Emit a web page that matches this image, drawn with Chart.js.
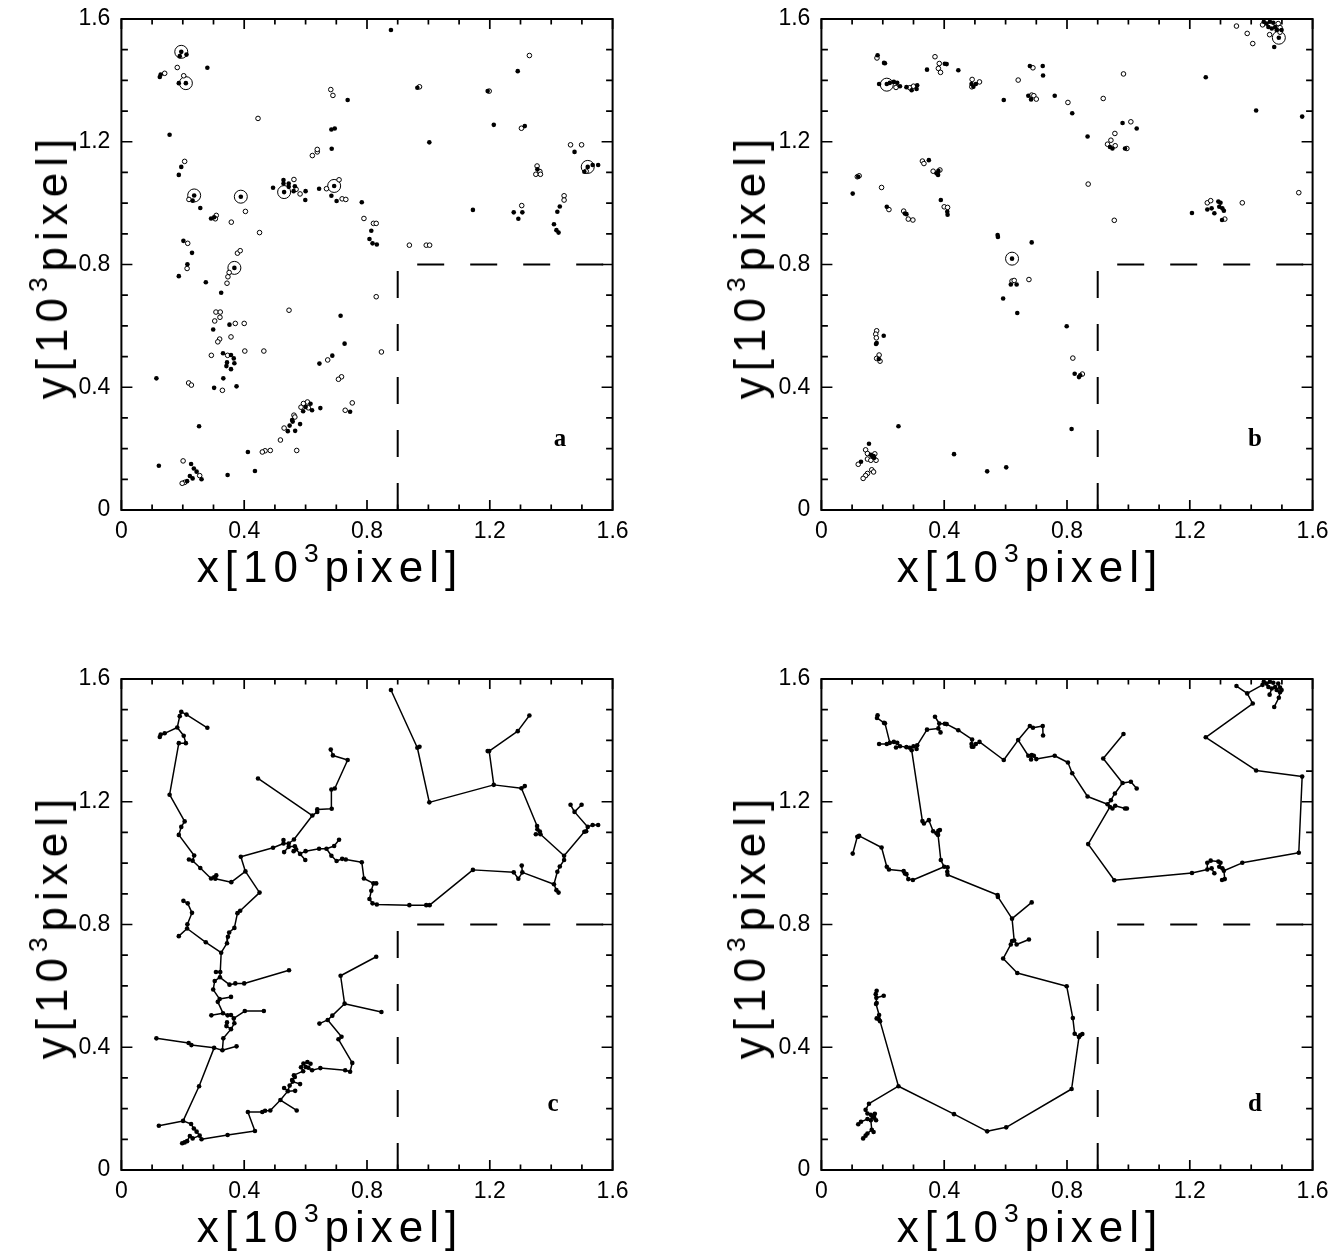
<!DOCTYPE html>
<html>
<head>
<meta charset="utf-8">
<script src="https://cdn.jsdelivr.net/npm/chart.js@4.4.0/dist/chart.umd.min.js"></script>
<style>
  body { margin: 0; background: #fff; width: 1341px; height: 1251px; position: relative; overflow: hidden; }
  canvas { position: absolute; }
  .ttl { position: absolute; transform: translate(-50%, -50%); font: 44px "Liberation Sans", Arial, sans-serif;
         letter-spacing: 6px; white-space: nowrap; line-height: 1; color: #000; }
  .ttl.v { transform: translate(-50%, -50%) rotate(-90deg); }
  .ttl sup { font-size: 0.6em; vertical-align: 0.75em; line-height: 0; }
</style>
</head>
<body>
<canvas id="pa" width="640" height="560" style="left:0px;top:0px"></canvas>
<canvas id="pb" width="640" height="560" style="left:700px;top:0px"></canvas>
<canvas id="pc" width="640" height="560" style="left:0px;top:660px"></canvas>
<canvas id="pd" width="640" height="560" style="left:700px;top:660px"></canvas>

<div class="ttl" style="left:330px;top:567px">x[10<sup>3</sup>pixel]</div>
<div class="ttl" style="left:1030px;top:567px">x[10<sup>3</sup>pixel]</div>
<div class="ttl" style="left:330px;top:1227px">x[10<sup>3</sup>pixel]</div>
<div class="ttl" style="left:1030px;top:1227px">x[10<sup>3</sup>pixel]</div>
<div class="ttl v" style="left:52px;top:266px">y[10<sup>3</sup>pixel]</div>
<div class="ttl v" style="left:750px;top:266px">y[10<sup>3</sup>pixel]</div>
<div class="ttl v" style="left:52px;top:926px">y[10<sup>3</sup>pixel]</div>
<div class="ttl v" style="left:750px;top:926px">y[10<sup>3</sup>pixel]</div>

<script>
// axis ticks
const tickValues = [0, 0.4, 0.8, 1.2, 1.6];
const tickLabels = ['0', '0.4', '0.8', '1.2', '1.6'];
const minorTicks = [0.1, 0.2, 0.3, 0.5, 0.6, 0.7, 0.9, 1.0, 1.1, 1.3, 1.4, 1.5];

// dashed boundary (x, y in 10^3 pixel)
const cutLine = [[0.9, 0], [0.9, 0.8], [1.6, 0.8]];

// panel a: filled and open dots, circled ones
const aFilled = [
  [0.125,1.411],[0.128,1.419],[0.195,1.493],[0.190,1.479],[0.212,1.484],[0.187,1.391],[0.210,1.391],
  [0.280,1.441],[0.157,1.223],[0.195,1.118],[0.187,1.092],[0.237,1.025],[0.232,1.008],[0.257,0.984],
  [0.292,0.950],[0.302,0.954],[0.389,1.021],[0.202,0.877],[0.230,0.838],[0.215,0.801],[0.368,0.789],
  [0.737,1.336],[0.684,1.240],[0.695,1.243],[0.685,1.177],[0.494,1.050],[0.528,1.075],[0.528,1.064],
  [0.530,1.036],[0.545,1.064],[0.545,1.053],[0.565,1.055],[0.561,1.039],[0.600,1.039],[0.599,1.010],
  [0.644,1.047],[0.693,1.056],[0.684,1.024],[0.701,1.007],[0.783,1.003],
  [0.878,1.564],[0.964,1.376],[1.193,1.365],[1.003,1.198],[1.291,1.430],[1.213,1.255],[1.314,1.251],
  [1.476,1.167],[1.519,1.118],[1.535,1.124],[1.553,1.124],[1.508,1.102],[1.355,1.110],[1.278,0.970],
  [1.306,0.970],[1.293,0.949],[1.145,0.978],[1.428,0.989],[1.420,0.972],[1.409,0.931],[1.417,0.912],
  [1.424,0.904],[0.814,0.910],[0.808,0.883],[0.818,0.869],[0.832,0.865],
  [0.187,0.762],[0.275,0.742],[0.325,0.708],[0.714,0.633],[0.352,0.604],[0.299,0.588],[0.727,0.542],
  [0.331,0.511],[0.357,0.505],[0.366,0.494],[0.344,0.481],[0.368,0.478],[0.342,0.469],[0.357,0.459],
  [0.687,0.503],[0.645,0.477],[0.332,0.429],[0.114,0.429],[0.302,0.398],[0.375,0.403],[0.745,0.320],
  [0.648,0.332],[0.616,0.346],[0.600,0.336],[0.592,0.322],[0.621,0.325],[0.556,0.293],[0.558,0.288],
  [0.582,0.280],[0.548,0.275],[0.542,0.257],[0.566,0.258],[0.412,0.189],[0.435,0.127],[0.346,0.114],
  [0.253,0.273],[0.122,0.144],[0.227,0.150],[0.236,0.135],[0.245,0.125],[0.223,0.111],[0.232,0.103],
  [0.261,0.100],[0.214,0.094]
];
const aOpen = [
  [0.141,1.423],[0.182,1.442],[0.203,1.415],[0.206,1.136],[0.220,1.012],[0.309,0.960],[0.306,0.949],
  [0.358,0.938],[0.404,0.973],[0.450,0.904],[0.445,1.276],[0.216,0.869],[0.214,0.787],[0.378,0.837],
  [0.387,0.845],[0.682,1.370],[0.689,1.351],[0.622,1.155],[0.638,1.167],[0.638,1.175],[0.562,1.077],
  [0.569,1.045],[0.582,1.030],[0.668,1.047],[0.709,1.076],[0.719,1.014],[0.731,1.012],[0.790,0.950],
  [0.971,1.379],[1.198,1.365],[1.329,1.481],[1.303,1.244],[1.463,1.190],[1.499,1.190],[1.514,1.104],
  [1.354,1.121],[1.350,1.094],[1.363,1.103],[1.365,1.094],[1.304,0.992],[1.442,1.024],[1.442,1.010],
  [0.821,0.934],[0.830,0.934],[0.938,0.863],[0.993,0.863],[1.004,0.863],
  [0.347,0.760],[0.351,0.774],[0.344,0.739],[0.830,0.695],[0.546,0.651],[0.308,0.645],[0.322,0.645],
  [0.321,0.628],[0.304,0.616],[0.371,0.608],[0.400,0.608],[0.357,0.564],[0.320,0.557],[0.314,0.548],
  [0.402,0.518],[0.464,0.518],[0.293,0.504],[0.346,0.504],[0.672,0.489],[0.219,0.414],[0.228,0.407],
  [0.329,0.390],[0.847,0.515],[0.717,0.434],[0.707,0.426],[0.752,0.349],[0.729,0.325],[0.593,0.347],
  [0.606,0.352],[0.585,0.335],[0.609,0.333],[0.562,0.309],[0.565,0.303],[0.530,0.267],[0.518,0.228],
  [0.571,0.194],[0.485,0.194],[0.468,0.193],[0.459,0.189],[0.201,0.160],[0.255,0.112],[0.206,0.090],
  [0.198,0.087]
];
const aCircled = [[0.195,1.493],[0.210,1.391],[0.237,1.025],[0.389,1.021],[0.368,0.789],[0.530,1.036],[0.693,1.056],[1.519,1.118]];

// panel b
const bFilled = [
  [0.183,1.482],[0.204,1.457],[0.207,1.456],[0.188,1.388],[0.213,1.388],[0.223,1.392],[0.236,1.395],
  [0.247,1.392],[0.256,1.381],[0.277,1.378],[0.294,1.368],[0.312,1.384],[0.310,1.372],[0.344,1.435],
  [0.402,1.454],[0.408,1.453],[0.446,1.433],[0.489,1.388],[0.495,1.379],[0.503,1.388],[0.594,1.336],
  [0.679,1.447],[0.721,1.447],[0.722,1.416],[0.674,1.350],[0.683,1.338],[0.760,1.350],[0.120,1.086],
  [0.102,1.031],[0.213,0.988],[0.272,0.966],[0.277,0.964],[0.350,1.140],[0.375,1.097],[0.381,1.105],
  [0.380,1.092],[0.389,1.010],[0.410,0.972],[0.411,0.962],[0.574,0.896],[0.575,0.890],[0.685,0.872],
  [0.621,0.819],
  [1.475,1.509],[1.490,1.539],[1.441,1.591],[1.450,1.585],[1.461,1.591],[1.472,1.588],[1.456,1.574],
  [1.467,1.569],[1.478,1.574],[1.483,1.564],[1.499,1.564],[1.252,1.410],[0.817,1.293],[0.981,1.261],
  [1.027,1.243],[0.867,1.217],[0.940,1.183],[0.948,1.178],[0.989,1.178],[1.416,1.302],[1.566,1.282],
  [1.207,0.968],[1.257,0.979],[1.271,0.983],[1.280,0.967],[1.293,1.005],[1.300,1.001],[1.296,0.988],
  [1.306,0.983],[1.311,0.975],[1.305,0.945],
  [0.617,0.735],[0.636,0.735],[0.592,0.689],[0.638,0.642],[0.799,0.599],[0.825,0.444],[0.839,0.433],
  [0.843,0.439],[0.815,0.264],[0.251,0.273],[0.432,0.182],[0.540,0.126],[0.602,0.139],[0.203,0.568],
  [0.178,0.541],[0.180,0.544],[0.187,0.492],[0.155,0.216],[0.161,0.180],[0.166,0.174],[0.172,0.170],
  [0.170,0.176],[0.129,0.157]
];
const bOpen = [
  [0.181,1.473],[0.243,1.377],[0.288,1.376],[0.300,1.381],[0.370,1.477],[0.384,1.455],[0.381,1.439],
  [0.388,1.426],[0.491,1.403],[0.515,1.395],[0.490,1.379],[0.641,1.401],[0.689,1.441],[0.685,1.352],
  [0.692,1.350],[0.700,1.339],[0.117,1.086],[0.123,1.089],[0.196,1.051],[0.220,0.979],[0.268,0.974],
  [0.283,0.948],[0.298,0.945],[0.329,1.137],[0.334,1.129],[0.364,1.104],[0.386,1.108],[0.400,0.988],
  [0.411,0.986],
  [1.352,1.577],[1.387,1.553],[1.405,1.520],[1.437,1.581],[1.460,1.549],[1.488,1.585],[1.494,1.572],
  [1.494,1.557],[0.984,1.421],[0.803,1.328],[0.918,1.341],[1.008,1.265],[0.956,1.227],[0.943,1.205],
  [0.932,1.192],[0.957,1.187],[0.995,1.178],[0.869,1.062],[0.954,0.944],[1.257,1.001],[1.268,1.008],
  [1.314,0.948],[1.371,1.001],[1.555,1.034],
  [0.621,0.746],[0.628,0.748],[0.676,0.751],[0.819,0.495],[0.850,0.443],[0.180,0.584],[0.177,0.573],
  [0.179,0.561],[0.188,0.505],[0.180,0.494],[0.191,0.485],[0.144,0.196],[0.150,0.184],[0.174,0.183],
  [0.150,0.166],[0.161,0.162],[0.178,0.162],[0.120,0.149],[0.164,0.131],[0.170,0.124],[0.150,0.119],
  [0.144,0.112],[0.136,0.103]
];
const bCircled = [[0.213,1.386],[0.621,0.819],[1.490,1.539]];

const panelLetters = ['a', 'b', 'c', 'd'];

const pts = arr => arr.map(([x, y]) => ({ x, y }));

// minimal spanning tree of the dots (panels c, d), split into segments with gaps
function treeSegments(arr) {
  const n = arr.length;
  const used = new Array(n).fill(false);
  const dist = new Array(n).fill(Infinity);
  const from = new Array(n).fill(-1);
  const out = [];
  dist[0] = 0;
  for (let k = 0; k < n; k++) {
    let best = -1;
    for (let i = 0; i < n; i++) if (!used[i] && (best < 0 || dist[i] < dist[best])) best = i;
    used[best] = true;
    if (from[best] >= 0) {
      const p = arr[from[best]], q = arr[best];
      out.push({ x: p[0], y: p[1] }, { x: q[0], y: q[1] }, { x: null, y: null });
    }
    for (let i = 0; i < n; i++) {
      if (used[i]) continue;
      const d = Math.hypot(arr[i][0] - arr[best][0], arr[i][1] - arr[best][1]);
      if (d < dist[i]) { dist[i] = d; from[i] = best; }
    }
  }
  return out;
}

const framePlugin = {
  id: 'frame',
  afterDatasetsDraw(chart, args, opts) {
    const { ctx, chartArea: ca, scales: { x, y } } = chart;
    ctx.save();
    ctx.strokeStyle = '#000';
    ctx.lineWidth = 2;
    ctx.strokeRect(ca.left, ca.top, ca.right - ca.left, ca.bottom - ca.top);
    ctx.lineWidth = 1.7;
    ctx.beginPath();
    const mark = (v, lenX, lenY) => {
      const px = x.getPixelForValue(v), py = y.getPixelForValue(v);
      ctx.moveTo(px, ca.bottom); ctx.lineTo(px, ca.bottom - lenX);
      ctx.moveTo(px, ca.top); ctx.lineTo(px, ca.top + lenX);
      ctx.moveTo(ca.left, py); ctx.lineTo(ca.left + lenY, py);
      ctx.moveTo(ca.right, py); ctx.lineTo(ca.right - lenY, py);
    };
    tickValues.forEach(v => mark(v, 10, 11));
    minorTicks.forEach(v => mark(v, 5.5, 6.5));
    ctx.stroke();
    ctx.fillStyle = '#000';
    ctx.font = 'bold 25px "Liberation Serif", serif';
    ctx.textAlign = 'center';
    ctx.textBaseline = 'middle';
    ctx.fillText(opts.letter, x.getPixelForValue(opts.lx), y.getPixelForValue(opts.ly));
    ctx.restore();
  }
};

const tickFont = { family: '"Liberation Sans", Arial, sans-serif', size: 23 };

function axis(fit, pad) {
  return {
    type: 'linear', min: 0, max: 1.6,
    afterBuildTicks: s => { s.ticks = tickValues.map(v => ({ value: v })); },
    afterFit: s => {
      fit(s);
      s.paddingTop = 0; s.paddingBottom = 0; s.paddingLeft = 0; s.paddingRight = 0;
    },
    grid: { display: false, drawTicks: false },
    border: { display: false },
    ticks: { padding: pad, color: '#000', font: tickFont, maxRotation: 0, autoSkip: false,
             callback: (v, i) => tickLabels[i] }
  };
}

function makePanel(id, datasets, letter, lx, ly) {
  new Chart(document.getElementById(id), {
    type: 'scatter',
    data: { datasets },
    options: {
      responsive: false,
      animation: false,
      events: [],
      layout: { padding: { top: 19, right: 27.4, left: 0, bottom: 0 } },
      plugins: { legend: { display: false }, tooltip: { enabled: false }, frame: { letter, lx, ly } },
      scales: {
        x: axis(s => { s.height = 50; }, 8),
        y: axis(s => { s.width = 121.4; }, 11)
      }
    },
    plugins: [framePlugin]
  });
}

const dashed = () => ({ data: pts(cutLine), showLine: true, borderColor: '#000', borderWidth: 2,
                        borderDash: [27, 26], pointRadius: 0, order: 5 });
const filledSet = arr => ({ data: pts(arr), pointRadius: 2.3, pointBackgroundColor: '#000',
                            pointBorderColor: '#000', pointBorderWidth: 0, order: 0 });
const openSet = arr => ({ data: pts(arr), pointRadius: 2.3, pointBackgroundColor: '#fff',
                          pointBorderColor: '#000', pointBorderWidth: 1, order: 1 });
const ringSet = arr => ({ data: pts(arr), pointRadius: 6.5, pointBackgroundColor: 'rgba(0,0,0,0)',
                          pointBorderColor: '#000', pointBorderWidth: 1, order: 2 });
const treeSet = arr => ({ data: treeSegments(arr), showLine: true, spanGaps: false, borderColor: '#000',
                          borderWidth: 1.5, pointRadius: 0, order: 3 });

const cDots = aFilled.concat(aOpen);
const dDots = bFilled.concat(bOpen);

makePanel('pa', [dashed(), ringSet(aCircled), openSet(aOpen), filledSet(aFilled)], panelLetters[0], 1.429, 0.228);
makePanel('pb', [dashed(), ringSet(bCircled), openSet(bOpen), filledSet(bFilled)], panelLetters[1], 1.412, 0.228);
makePanel('pc', [dashed(), treeSet(cDots), filledSet(cDots)], panelLetters[2], 1.406, 0.212);
makePanel('pd', [dashed(), treeSet(dDots), filledSet(dDots)], panelLetters[3], 1.412, 0.212);
</script>
</body>
</html>
